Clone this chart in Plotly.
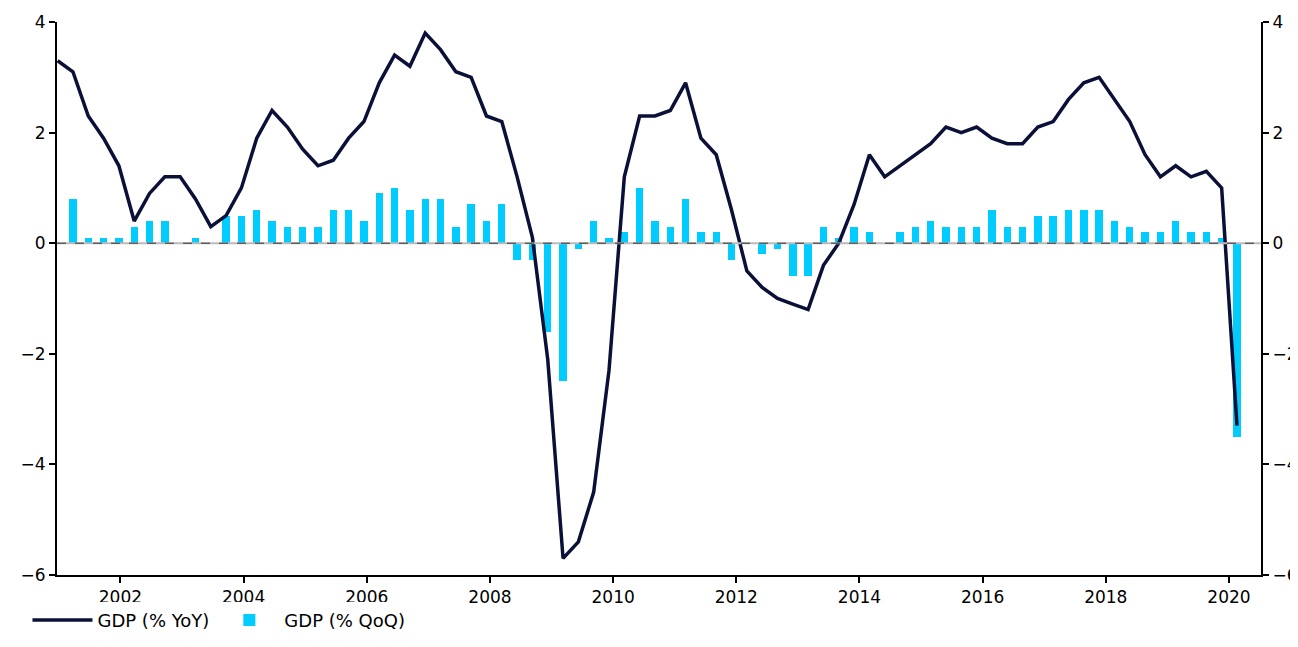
import plotly.graph_objects as go

# quarters 2001Q1 .. 2020Q2
quarters = [f"{y}Q{q}" for y in range(2001, 2021) for q in range(1, 5)][:78]

gdp_yoy = [3.3, 3.1, 2.3, 1.9, 1.4, 0.4, 0.9, 1.2, 1.2, 0.8,
           0.3, 0.5, 1.0, 1.9, 2.4, 2.1, 1.7, 1.4, 1.5, 1.9,
           2.2, 2.9, 3.4, 3.2, 3.8, 3.5, 3.1, 3.0, 2.3, 2.2,
           1.2, 0.1, -2.1, -5.7, -5.4, -4.5, -2.3, 1.2, 2.3, 2.3,
           2.4, 2.9, 1.9, 1.6, 0.6, -0.5, -0.8, -1.0, -1.1, -1.2,
           -0.4, 0.0, 0.7, 1.6, 1.2, 1.4, 1.6, 1.8, 2.1, 2.0,
           2.1, 1.9, 1.8, 1.8, 2.1, 2.2, 2.6, 2.9, 3.0, 2.6,
           2.2, 1.6, 1.2, 1.4, 1.2, 1.3, 1.0, -3.3]

gdp_qoq = [0.0, 0.8, 0.1, 0.1, 0.1, 0.3, 0.4, 0.4, 0.0, 0.1,
           0.0, 0.5, 0.5, 0.6, 0.4, 0.3, 0.3, 0.3, 0.6, 0.6,
           0.4, 0.9, 1.0, 0.6, 0.8, 0.8, 0.3, 0.7, 0.4, 0.7,
           -0.3, -0.3, -1.6, -2.5, -0.1, 0.4, 0.1, 0.2, 1.0, 0.4,
           0.3, 0.8, 0.2, 0.2, -0.3, 0.0, -0.2, -0.1, -0.6, -0.6,
           0.3, 0.1, 0.3, 0.2, 0.0, 0.2, 0.3, 0.4, 0.3, 0.3,
           0.3, 0.6, 0.3, 0.3, 0.5, 0.5, 0.6, 0.6, 0.6, 0.4,
           0.3, 0.2, 0.2, 0.4, 0.2, 0.2, 0.1, -3.5]

# quarterly positions, squeezed slightly to sit like the original
x = [2000.98 + i * 0.2487 for i in range(len(quarters))]

NAVY = "#0b1038"
CYAN = "#00ccff"
FONT = "DejaVu Sans"

fig = go.Figure()
fig.add_trace(go.Bar(x=x, y=gdp_qoq, name="GDP (% QoQ)", marker=dict(color=CYAN, line_width=0),
                     width=0.12))
fig.add_trace(go.Scatter(x=x, y=gdp_yoy, name="GDP (% YoY)", mode="lines",
                         line=dict(color=NAVY, width=3.5)))
# invisible copy to drive the right axis
fig.add_trace(go.Scatter(x=x, y=gdp_yoy, yaxis="y2", showlegend=False, mode="lines",
                         line=dict(width=0), hoverinfo="skip"))

fig.add_hline(y=0, line=dict(color="#bbbbbb", width=2))
fig.add_hline(y=0, line=dict(color="#333333", width=1, dash="dash"))

axis_common = dict(range=[-6, 4], tickvals=[-6, -4, -2, 0, 2, 4], ticks="outside", ticklen=6,
                   tickwidth=2, tickcolor="black", showgrid=False, zeroline=False,
                   showline=True, linecolor="black", linewidth=2, automargin=False,
                   tickfont=dict(family=FONT, size=17, color="black"))

fig.update_layout(
    width=1298, height=647,
    plot_bgcolor="white", paper_bgcolor="white",
    margin=dict(l=49, r=45, t=14, b=80, autoexpand=False),
    font=dict(family=FONT, color="black"),
    bargap=0,
    xaxis=dict(range=[2000.97, 2020.52], tickvals=list(range(2002, 2021, 2)),
               ticks="outside", ticklen=6, tickwidth=2, tickcolor="black",
               showgrid=False, zeroline=False, showline=True, linecolor="black", linewidth=2,
               automargin=False, tickfont=dict(family=FONT, size=17, color="black")),
    yaxis=axis_common,
    yaxis2=dict(axis_common, overlaying="y", side="right"),
    legend=dict(orientation="h", x=0.015, y=0.025, xref="container", yref="container",
                xanchor="left", yanchor="bottom", itemwidth=60,
                font=dict(family=FONT, size=18, color="black"), traceorder="reversed"),
    showlegend=True,
)

fig.write_html("out.html")
